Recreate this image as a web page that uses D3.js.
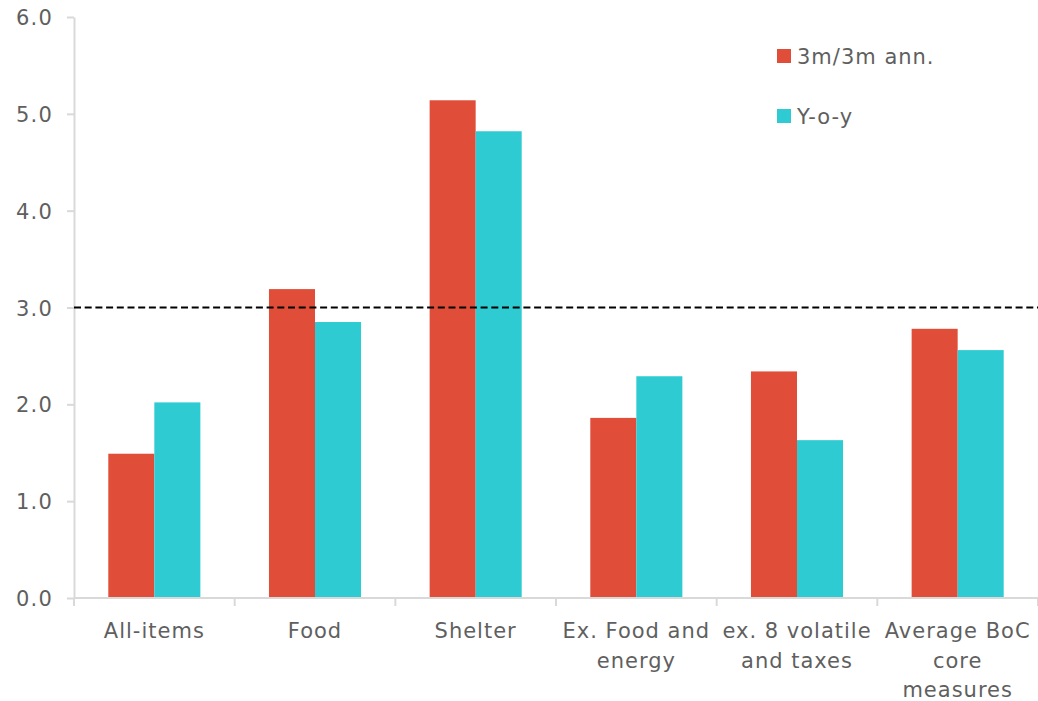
<!DOCTYPE html>
<html><head><meta charset="utf-8">
<script src="https://cdn.jsdelivr.net/npm/d3@7"></script>
<style>body{margin:0;background:#fff}svg{display:block}</style>
</head><body>
<svg id="c" width="1038" height="701"></svg>
<script>
const categories = [["All-items"],["Food"],["Shelter"],["Ex. Food and","energy"],["ex. 8 volatile","and taxes"],["Average BoC","core","measures"]];
const seriesNames = ["3m/3m ann.","Y-o-y"];
const threeMonth = [1.49, 3.19, 5.14, 1.86, 2.34, 2.78];
const yoy = [2.02, 2.85, 4.82, 2.29, 1.63, 2.56];
const yTicks = [0,1,2,3,4,5,6];
const target = 3.0;
const colors = ["#E04E39","#2ECBD3"];

(function(){
const svg = d3.select("#c");
const mLeft = 74, mRight = 1038, mTop = 17, mBottom = 598;
const font = "'DejaVu Sans', Verdana, sans-serif";
const txt = "#5f5f5f";

const x = d3.scaleBand().domain(d3.range(categories.length)).range([mLeft, mRight]).paddingInner(0).paddingOuter(0);
const y = d3.scaleLinear().domain([0,6]).range([mBottom, mTop]);
const xs = d3.scaleBand().domain([0,1]).range([0, x.bandwidth()*0.573]).padding(0);
const off = (x.bandwidth() - x.bandwidth()*0.573)/2;

const data = categories.map((c,i)=>({i, vals:[threeMonth[i], yoy[i]]}));
const g = svg.append("g");
data.forEach(d=>{
  d.vals.forEach((v,s)=>{
    g.append("rect")
      .attr("x", x(d.i)+off+xs(s))
      .attr("y", y(v))
      .attr("width", xs.bandwidth())
      .attr("height", y(0)-y(v))
      .attr("fill", colors[s]);
  });
});

// y axis
const ya = svg.append("g").attr("transform",`translate(${mLeft},0)`)
  .call(d3.axisLeft(y).tickValues(yTicks).tickFormat(d3.format(".1f")).tickSize(7).tickSizeOuter(0).tickPadding(14));
ya.select(".domain").attr("stroke","#d9d9d9").attr("stroke-width",2);
ya.selectAll(".tick line").attr("stroke","#d9d9d9").attr("stroke-width",2);
ya.selectAll(".tick text").attr("fill",txt).style("font-family",font).style("font-size","21px").style("letter-spacing","1.2px").attr("dy","0.36em");

// x axis
const xa = svg.append("g").attr("transform",`translate(0,${mBottom})`);
xa.append("line").attr("x1",mLeft).attr("x2",mRight).attr("y1",0).attr("y2",0).attr("stroke","#d9d9d9").attr("stroke-width",2);
const bounds = d3.range(categories.length+1).map(i=> i<categories.length ? x(i) : mRight);
xa.selectAll("line.t").data(bounds).join("line").attr("class","t")
  .attr("x1",d=>d).attr("x2",d=>d).attr("y1",0).attr("y2",8).attr("stroke","#d9d9d9").attr("stroke-width",2);
categories.forEach((lines,i)=>{
  const t = xa.append("text").attr("text-anchor","middle").attr("fill",txt)
    .style("font-family",font).style("font-size","21px").style("letter-spacing","1px");
  lines.forEach((l,k)=>{
    t.append("tspan").attr("x", x(i)+x.bandwidth()/2).attr("y", 40+k*29.5).text(l);
  });
});

// target line
svg.append("line").attr("x1",mLeft).attr("x2",mRight).attr("y1",y(target)).attr("y2",y(target))
  .attr("stroke","#000").attr("stroke-width",2).attr("stroke-dasharray","7,3.7");

// legend
const lg = svg.append("g");
seriesNames.forEach((n,s)=>{
  lg.append("rect").attr("x",777).attr("y",49+s*60).attr("width",14).attr("height",14).attr("fill",colors[s]);
  lg.append("text").attr("x",797).attr("y",64+s*60).attr("fill",txt)
    .style("font-family",font).style("font-size","21px").style("letter-spacing","1px").text(n);
});
})();
</script>
</body></html>
